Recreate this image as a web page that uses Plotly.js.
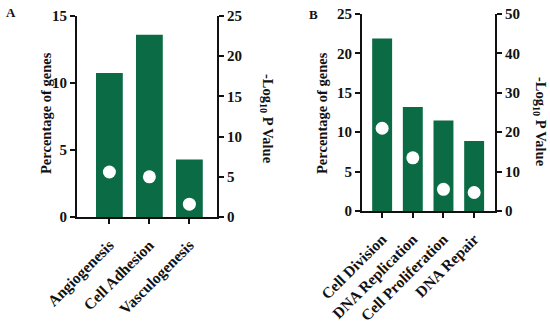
<!DOCTYPE html>
<html>
<head>
<meta charset="utf-8">
<script src="https://cdn.plot.ly/plotly-3.0.1.min.js"></script>
<style>html,body{margin:0;padding:0;background:#fff}#chart{width:550px;height:328px}</style>
</head>
<body>
<div id="chart"></div>
<script>
const catsA = ["Angiogenesis", "Cell Adhesion", "Vasculogenesis"];
const pctA = [10.75, 13.6, 4.3];
const logpA = [5.6, 5.0, 1.6];

const catsB = ["Cell Division", "DNA Replication", "Cell Proliferation", "DNA Repair"];
const pctB = [21.9, 13.2, 11.5, 8.9];
const logpB = [21.0, 13.5, 5.5, 4.7];

const green = "#0b6b45";
const F = {family: "Liberation Serif, Times New Roman, serif", color: "#111", weight: "bold"};
const tickFont = Object.assign({}, F, {size: 15});
const catFont = Object.assign({}, F, {size: 15.5});
const titleFont = Object.assign({}, F, {size: 14.5});

const traces = [
  {type: "bar", x: catsA, y: pctA, xaxis: "x", yaxis: "y", marker: {color: green}, width: 0.67, hoverinfo: "skip"},
  {type: "scatter", mode: "markers", x: catsA, y: logpA, xaxis: "x", yaxis: "y2", marker: {color: "#fff", size: 13}, hoverinfo: "skip"},
  {type: "bar", x: catsB, y: pctB, xaxis: "x2", yaxis: "y3", marker: {color: green}, width: 0.65, hoverinfo: "skip"},
  {type: "scatter", mode: "markers", x: catsB, y: logpB, xaxis: "x2", yaxis: "y4", marker: {color: "#fff", size: 13}, hoverinfo: "skip"}
];

const axLine = {showline: true, linecolor: "#111", linewidth: 2, ticks: "outside", ticklen: 5, tickwidth: 2, tickcolor: "#111", showgrid: false, zeroline: false};

const ann = (text, px, py, angle, font) => ({text: text, xref: "paper", yref: "paper", x: px / 550, y: 1 - py / 328,
  xanchor: "center", yanchor: "middle", textangle: angle, showarrow: false, font: font});

const layout = {
  width: 550, height: 328,
  margin: {l: 0, r: 0, t: 0, b: 0},
  paper_bgcolor: "#fff", plot_bgcolor: "rgba(0,0,0,0)",
  showlegend: false,
  xaxis: Object.assign({}, axLine, {domain: [0.14, 0.3945], anchor: "y", range: [-0.81, 2.69], tickangle: -45, tickfont: catFont, ticklabelstandoff: 6}),
  yaxis: Object.assign({}, axLine, {domain: [0.3384, 0.9512], anchor: "x", range: [0, 15], tickvals: [0, 5, 10, 15], tickfont: tickFont}),
  yaxis2: Object.assign({}, axLine, {overlaying: "y", side: "right", anchor: "x", range: [0, 25], tickvals: [0, 5, 10, 15, 20, 25], tickfont: tickFont}),
  xaxis2: Object.assign({}, axLine, {domain: [0.658, 0.9], anchor: "y3", range: [-0.66, 3.68], tickangle: -45, tickfont: catFont, ticklabelstandoff: 6}),
  yaxis3: Object.assign({}, axLine, {domain: [0.3567, 0.9573], anchor: "x2", range: [0, 25], tickvals: [0, 5, 10, 15, 20, 25], tickfont: tickFont}),
  yaxis4: Object.assign({}, axLine, {overlaying: "y3", side: "right", anchor: "x2", range: [0, 50], tickvals: [0, 10, 20, 30, 40, 50], tickfont: tickFont}),
  annotations: [
    ann("A", 11, 12, 0, Object.assign({}, F, {size: 13})),
    ann("B", 313, 14, 0, Object.assign({}, F, {size: 13})),
    ann("Percentage of genes", 46, 113, -90, titleFont),
    ann("Percentage of genes", 322, 113, -90, titleFont),
    ann("-Log<sub>10</sub> P Value", 267, 119, 90, titleFont),
    ann("-Log<sub>10</sub> P Value", 540, 122, 90, titleFont)
  ]
};

Plotly.newPlot("chart", traces, layout, {displayModeBar: false, staticPlot: true});
</script>
</body>
</html>
